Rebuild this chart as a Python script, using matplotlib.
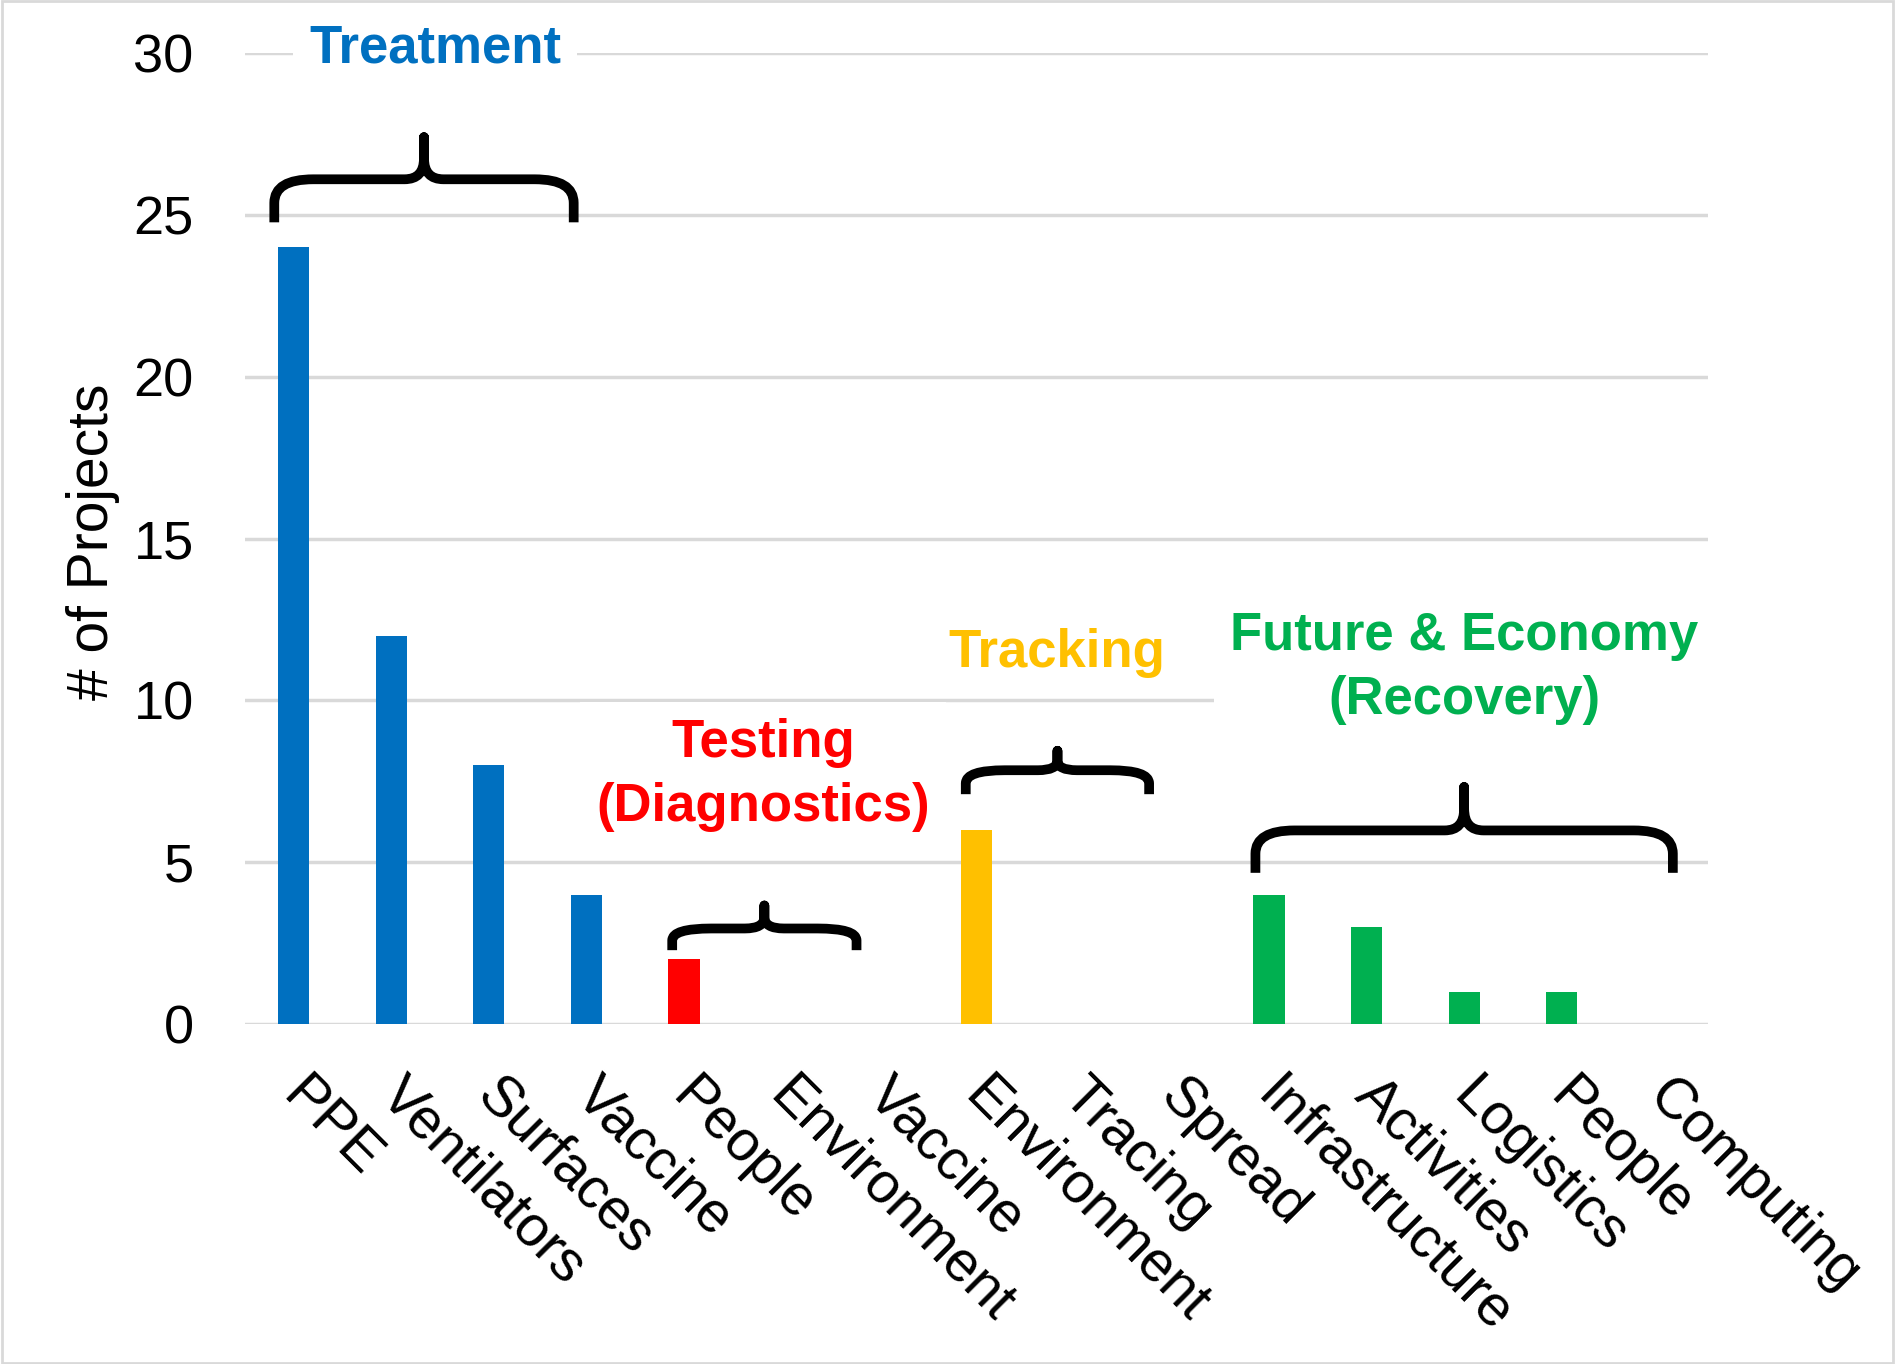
import matplotlib
matplotlib.use("Agg")
import matplotlib.pyplot as plt
from matplotlib.path import Path
from matplotlib.patches import PathPatch, Rectangle
from matplotlib.transforms import ScaledTranslation

plt.rcParams['font.family'] = ['Liberation Sans', 'DejaVu Sans']

# data
categories = ["PPE", "Ventilators", "Surfaces", "Vaccine",
              "People", "Environment", "Vaccine",
              "Environment", "Tracing", "Spread",
              "Infrastructure", "Activities", "Logistics", "People", "Computing"]
projects = [24, 12, 8, 4,
            2, 0, 0,
            6, 0, 0,
            4, 3, 1, 1, 0]
groups = ["Treatment", "Testing\n(Diagnostics)", "Tracking", "Future & Economy\n(Recovery)"]
group_sizes = [4, 3, 3, 5]
group_colors = ["#0070C0", "#FF0000", "#FFC000", "#00B050"]

bar_colors = []
for size, col in zip(group_sizes, group_colors):
    bar_colors += [col] * size

fig = plt.figure(figsize=(18.95, 13.64), dpi=100)
ax = fig.add_axes([0.1293, 0.2493, 0.772, 0.7118])

x = list(range(len(categories)))
ax.bar(x, projects, width=0.32, color=bar_colors, zorder=2)

ax.set_xlim(-0.5, len(categories) - 0.5)
ax.set_ylim(0, 30)
ax.set_yticks(range(0, 31, 5))
ax.yaxis.grid(True, color='#d9d9d9', linewidth=2.5, zorder=0)
ax.set_axisbelow(True)
for s in ax.spines.values():
    s.set_visible(False)

ax.tick_params(axis='y', length=0, pad=37, labelsize=39)
ax.tick_params(axis='x', length=0, pad=32)
ax.set_xticks(x)
ax.set_xticklabels(categories, rotation=-45, ha='left', rotation_mode='anchor', fontsize=41)
# nudge rotated labels to the right a little
for lab in ax.get_xticklabels():
    lab.set_transform(lab.get_transform() + ScaledTranslation(0.16, 0, fig.dpi_scale_trans))

ax.set_ylabel("# of Projects", fontsize=41, va='center')
ax.yaxis.set_label_coords(-0.104, 0.497)

# group labels (x, y in data units)
label_pos = [(1.45, 30.15), (4.81, 7.7), (7.82, 11.45), (12.0, 11.0)]
boxed = [True, True, False, True]
for name, col, (lx, ly), b in zip(groups, group_colors, label_pos, boxed):
    kw = {}
    if b:
        kw['bbox'] = dict(boxstyle='square,pad=0.3', facecolor='white', edgecolor='none')
    ax.text(lx, ly, name, color=col, fontsize=38, fontweight='bold',
            ha='center', va='center', linespacing=1.35, zorder=3, **kw)


def brace(x0, x1, yb, yl, yt, c=0.4, c2=0.2):
    xm = (x0 + x1) / 2
    h = yl - yb
    t = yt - yl
    verts = [(x0, yb), (x0, yl - h * 0.55), (x0, yl), (x0 + c, yl),
             (xm - c2, yl), (xm, yl), (xm, yl + t * 0.5), (xm, yt),
             (xm, yl + t * 0.5), (xm, yl), (xm + c2, yl),
             (x1 - c, yl), (x1, yl), (x1, yl - h * 0.55), (x1, yb)]
    codes = [Path.MOVETO, Path.LINETO, Path.CURVE3, Path.CURVE3,
             Path.LINETO, Path.CURVE3, Path.CURVE3, Path.LINETO,
             Path.LINETO, Path.CURVE3, Path.CURVE3,
             Path.LINETO, Path.CURVE3, Path.CURVE3, Path.LINETO]
    ax.add_patch(PathPatch(Path(verts, codes), fill=False, edgecolor='black',
                           linewidth=7, capstyle='butt', joinstyle='round',
                           zorder=4, clip_on=False))


braces = [(-0.2, 2.87, 24.77, 26.1, 27.4),
          (3.88, 5.77, 2.28, 2.95, 3.66),
          (6.89, 8.77, 7.1, 7.84, 8.44),
          (9.86, 14.14, 4.67, 5.98, 7.32)]
for b in braces:
    brace(*b)

fig.patches.append(Rectangle((0.001, 0.001), 0.998, 0.998, transform=fig.transFigure,
                             fill=False, edgecolor='#d9d9d9', linewidth=2))

fig.savefig("out.png", dpi=100)
